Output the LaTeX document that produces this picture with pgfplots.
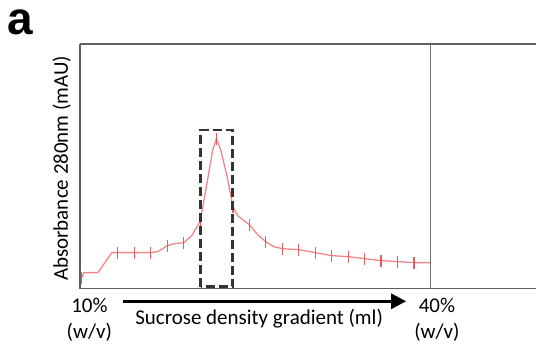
\documentclass[border=0pt]{standalone}
\usepackage{fontspec}
\setmainfont{Carlito}
\newfontfamily\boldsans{Liberation Sans}
\usepackage{pgfplots}
\pgfplotsset{compat=1.18}
\usetikzlibrary{arrows.meta}
\definecolor{trace}{RGB}{238,135,135}
\definecolor{ebar}{RGB}{225,95,95}
\begin{document}
\begin{tikzpicture}[x=1pt,y=1pt]
\begin{axis}[
  at={(0,0)}, anchor=origin,
  scale only axis, width=457pt, height=245pt,
  xmin=0, xmax=457, ymin=0, ymax=245,
  axis x line=box, axis y line=left,
  axis line style={-, draw=black!62, line width=1.5pt},
  xtick=\empty, ytick=\empty,
  clip=false,
]
\addplot[trace, line width=1.3pt] coordinates {
(2,11) (4,16) (18,16) (32,36) (38,36) (54.5,36) (71,36) (78,37) (87.4,43)
(95,45) (104,46) (112,53) (120.4,67) (127,104) (133,139) (136.8,150)
(141,139) (147,114) (153.3,82) (158,73) (169.8,64) (178,54) (186.2,47)
(194,42) (202.7,40) (219.2,39) (235.6,36) (252.1,33) (268.6,32) (285,30)
(301.5,28) (318,27) (334.5,26) (351,26)
};
\addplot[draw=none, mark=none,
  error bars/.cd, y dir=both, y explicit, error mark=none,
  error bar style={ebar, line width=1.2pt}]
  coordinates {
(2,11) +- (0,6) (38,36) +- (0,6) (54.5,36) +- (0,6) (71,36) +- (0,6)
(87.4,43) +- (0,6) (104,46) +- (0,6) (120.4,67) +- (0,6) (136.8,150) +- (0,6)
(153.3,82) +- (0,6) (169.8,64) +- (0,6) (186.2,47) +- (0,6) (202.7,40) +- (0,6)
(219.2,39) +- (0,6) (235.6,36) +- (0,6) (252.1,33) +- (0,6) (268.6,32) +- (0,6)
(285,30) +- (0,6) (301.5,28) +- (0,6) (318,27) +- (0,6) (334.5,26) +- (0,6)
(351,26) +- (0,6)
};
\draw[black!55, line width=1.3pt] (axis cs:351,0) -- (axis cs:351,245);
\draw[black!80, line width=2.6pt, dash pattern=on 9pt off 4pt]
  (axis cs:121,2) rectangle (axis cs:153,159);
\end{axis}
\draw[line width=3pt, -{Triangle[length=15pt,width=15pt]}] (42.7,-12.7) -- (326.7,-12.7);
\node[font=\fontsize{21}{25}\selectfont, anchor=base, rotate=90] at (-12,120.5) {Absorbance 280nm (mAU)};
\node[font=\fontsize{21}{25}\selectfont, anchor=base] at (179.5,-36) {Sucrose density gradient (ml)};
\node[font=\fontsize{21}{25}\selectfont, anchor=base] at (9.5,-24) {10\%};
\node[font=\fontsize{21}{25}\selectfont, anchor=base] at (9.5,-50) {(w/v)};
\node[font=\fontsize{21}{25}\selectfont, anchor=base] at (357.5,-24) {40\%};
\node[font=\fontsize{21}{25}\selectfont, anchor=base] at (357.5,-50) {(w/v)};
\node[font=\boldsans\bfseries\fontsize{46}{48}\selectfont, anchor=base, inner sep=0pt] at (-60,254) {a};
\path[use as bounding box] (-80,-61) rectangle (457,289);
\end{tikzpicture}
\end{document}
